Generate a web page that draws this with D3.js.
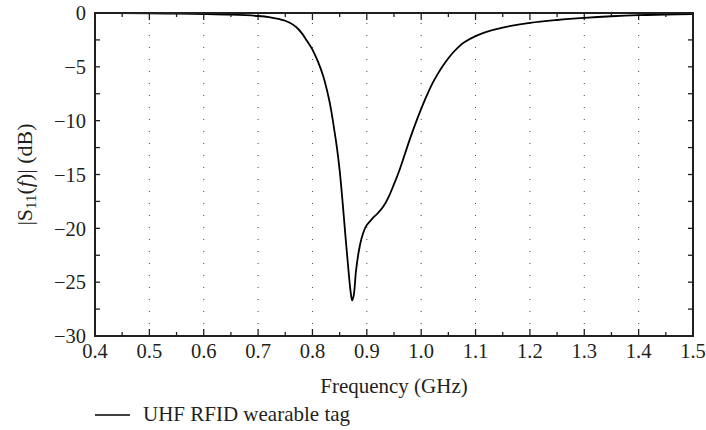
<!DOCTYPE html>
<html><head><meta charset="utf-8">
<script src="https://cdn.jsdelivr.net/npm/d3@7"></script>
<style>
html,body{margin:0;padding:0;background:#fff;}
svg{display:block;}
text{font-family:"Liberation Serif","DejaVu Serif",serif;fill:#231f20;}
</style></head>
<body>
<svg id="chart" width="706" height="430"></svg>
<script>
const freq = [0.40,0.45,0.50,0.55,0.60,0.65,0.70,0.72,0.74,0.75,0.76,0.77,0.78,0.79,0.80,0.81,0.82,0.83,0.835,0.84,0.845,0.85,0.855,0.86,0.865,0.87,0.873,0.876,0.88,0.885,0.89,0.895,0.90,0.91,0.92,0.93,0.94,0.95,0.96,0.97,0.98,0.99,1.00,1.01,1.02,1.03,1.04,1.05,1.06,1.07,1.08,1.10,1.12,1.15,1.20,1.25,1.30,1.35,1.40,1.45,1.50];
const s11 = [0,-0.02,-0.04,-0.06,-0.1,-0.16,-0.28,-0.38,-0.58,-0.72,-0.95,-1.3,-1.85,-2.6,-3.4,-4.5,-5.9,-7.9,-9.2,-10.8,-12.5,-14.6,-17.3,-20.3,-23.2,-25.8,-26.7,-26.2,-24.0,-22.2,-21.0,-20.2,-19.7,-19.1,-18.6,-18.0,-17.1,-15.9,-14.6,-13.1,-11.6,-10.2,-8.9,-7.7,-6.6,-5.7,-4.9,-4.2,-3.6,-3.1,-2.7,-2.15,-1.75,-1.35,-0.92,-0.65,-0.45,-0.3,-0.2,-0.15,-0.1];
const xTicks = [0.4,0.5,0.6,0.7,0.8,0.9,1.0,1.1,1.2,1.3,1.4,1.5];
const yTicks = [0,-5,-10,-15,-20,-25,-30];
const seriesName = "UHF RFID wearable tag";
const xTitle = "Frequency (GHz)";

const svg = d3.select("#chart");
const L = 95, R = 693, T = 13, B = 336;
const x = d3.scaleLinear().domain([0.4,1.5]).range([L,R]);
const y = d3.scaleLinear().domain([-30,0]).range([B,T]);
const fs = 20.5;
const ink = "#231f20";

// grid
svg.append("g").selectAll("line").data(xTicks.slice(1,-1)).enter().append("line")
  .attr("x1",d=>x(d)).attr("x2",d=>x(d)).attr("y1",B-12).attr("y2",T)
  .attr("stroke","#444").attr("stroke-width",1).attr("stroke-dasharray","1,11");

// ticks
const xMinor = d3.range(0.45,1.5,0.1);
const yAll = d3.range(0,-30.01,-2.5);
const t = svg.append("g").attr("stroke",ink).attr("stroke-width",1.3);
xTicks.forEach(d=>{
  t.append("line").attr("x1",x(d)).attr("x2",x(d)).attr("y1",B).attr("y2",B-7);
  t.append("line").attr("x1",x(d)).attr("x2",x(d)).attr("y1",T).attr("y2",T+7);
});
xMinor.forEach(d=>{
  t.append("line").attr("x1",x(d)).attr("x2",x(d)).attr("y1",B).attr("y2",B-4);
  t.append("line").attr("x1",x(d)).attr("x2",x(d)).attr("y1",T).attr("y2",T+4);
});
yAll.forEach(d=>{
  t.append("line").attr("x1",L).attr("x2",L+5).attr("y1",y(d)).attr("y2",y(d));
  t.append("line").attr("x1",R).attr("x2",R-5).attr("y1",y(d)).attr("y2",y(d));
});

// curve
const data = freq.map((f,i)=>({f, v:s11[i]}));
svg.append("path").datum(data)
  .attr("d", d3.line().x(d=>x(d.f)).y(d=>y(d.v)).curve(d3.curveCatmullRom.alpha(0.5)))
  .attr("fill","none").attr("stroke","#000").attr("stroke-width",1.8)
  .attr("stroke-linejoin","round");

// frame
svg.append("rect").attr("x",L).attr("y",T).attr("width",R-L).attr("height",B-T)
  .attr("fill","none").attr("stroke",ink).attr("stroke-width",2);

// tick labels
svg.selectAll("text.xt").data(xTicks).enter().append("text")
  .attr("x",d=>x(d)).attr("y",B+22).attr("text-anchor","middle").attr("font-size",fs)
  .text(d=>d.toFixed(1));
svg.selectAll("text.yt").data(yTicks).enter().append("text")
  .attr("x",L-9).attr("y",d=>y(d)).attr("dy","0.35em").attr("text-anchor","end").attr("font-size",fs)
  .text(d=>d===0?"0":"\u2212"+Math.abs(d));

// axis titles
svg.append("text").attr("x",(L+R)/2).attr("y",393).attr("text-anchor","middle").attr("font-size",21).text(xTitle);
const yl = svg.append("text").attr("transform",`translate(32,${(T+B)/2}) rotate(-90)`)
  .attr("text-anchor","middle").attr("font-size",22);
yl.append("tspan").text("|S");
yl.append("tspan").attr("font-size",15).attr("dy",4).text("11");
yl.append("tspan").attr("dy",-4).text("(");
yl.append("tspan").attr("font-style","italic").text("f");
yl.append("tspan").text(")| (dB)");

// legend
svg.append("line").attr("x1",95).attr("x2",130).attr("y1",415).attr("y2",415).attr("stroke","#000").attr("stroke-width",1.3);
svg.append("text").attr("x",143).attr("y",421).attr("font-size",21).text(seriesName);
</script>
</body></html>
